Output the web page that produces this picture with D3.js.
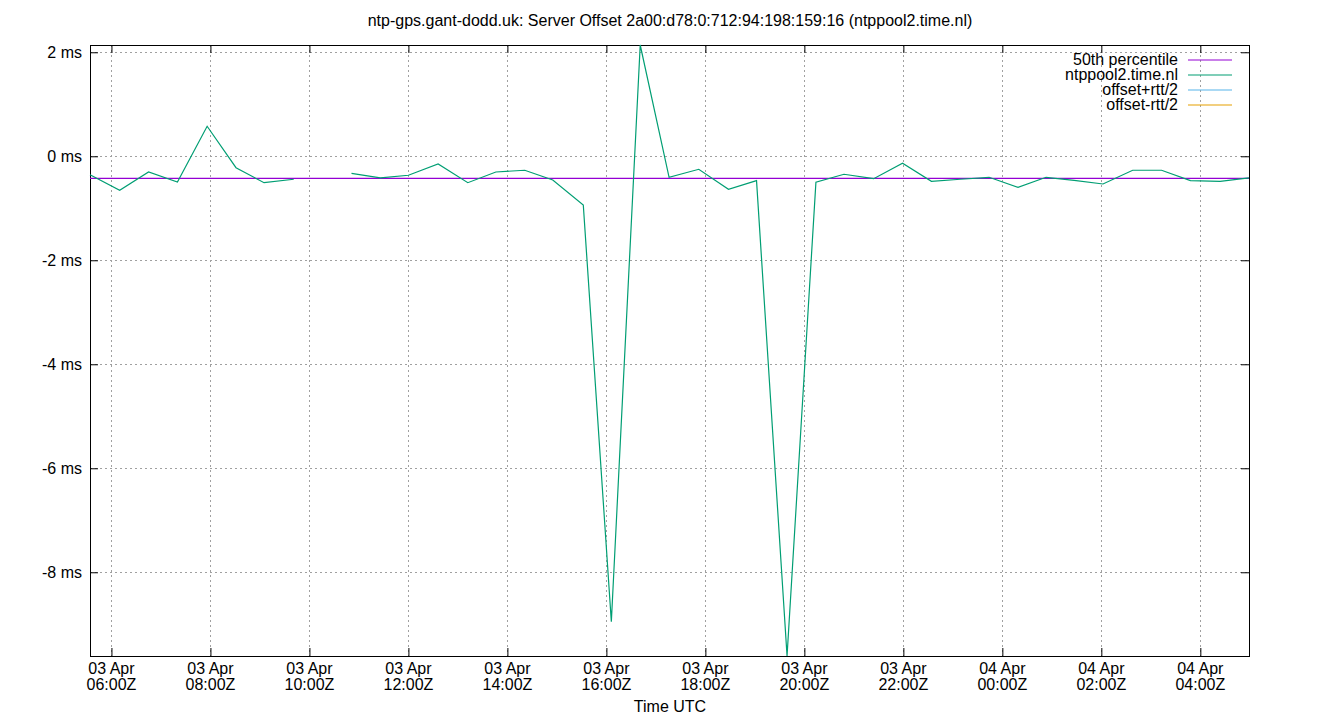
<!DOCTYPE html>
<html>
<head>
<meta charset="utf-8">
<script src="https://cdn.jsdelivr.net/npm/d3@7"></script>
<style>
  body { margin: 0; background: #fff; }
  svg { display: block; font-family: "Liberation Sans", Arial, sans-serif; }
</style>
</head>
<body>
<svg id="chart" width="1340" height="720"></svg>
<script>
// Sample times (UTC) and offsets in ms; null marks a missing sample
const times = [
  "2024-04-03 05:34", "2024-04-03 06:10", "2024-04-03 06:45", "2024-04-03 07:20",
  "2024-04-03 07:56", "2024-04-03 08:31", "2024-04-03 09:05", "2024-04-03 09:41",
  "2024-04-03 10:16", "2024-04-03 10:51", "2024-04-03 11:26", "2024-04-03 12:00",
  "2024-04-03 12:36", "2024-04-03 13:12", "2024-04-03 13:46", "2024-04-03 14:21",
  "2024-04-03 14:55", "2024-04-03 15:32", "2024-04-03 16:06", "2024-04-03 16:41",
  "2024-04-03 17:16", "2024-04-03 17:52", "2024-04-03 18:28", "2024-04-03 19:02",
  "2024-04-03 19:39", "2024-04-03 20:14", "2024-04-03 20:48", "2024-04-03 21:24",
  "2024-04-03 21:59", "2024-04-03 22:34", "2024-04-03 23:09", "2024-04-03 23:44",
  "2024-04-04 00:19", "2024-04-04 00:53", "2024-04-04 01:27", "2024-04-04 02:02",
  "2024-04-04 02:38", "2024-04-04 03:13", "2024-04-04 03:48", "2024-04-04 04:24",
  "2024-04-04 04:59"
];
const offsets = [
  -0.354, -0.654, -0.302, -0.494,
  0.577, -0.219, -0.508, -0.442,
  null, -0.327, -0.417, -0.365,
  -0.148, -0.508, -0.302, -0.269,
  -0.456, -0.937, -8.95, 2.14,
  -0.404, -0.25, -0.635, -0.469,
  -9.61, -0.5, -0.346, -0.431,
  -0.135, -0.481, -0.442, -0.404,
  -0.596, -0.404, -0.465, -0.533,
  -0.269, -0.269, -0.469, -0.481,
  -0.417
];
const median = -0.423;
const yTicks = [-8, -6, -4, -2, 0, 2];
const legendNames = ["50th percentile", "ntppool2.time.nl", "offset+rtt/2", "offset-rtt/2"];
const legendColors = ["#9400d3", "#009e73", "#56b4e9", "#e69f00"];

const title = "ntp-gps.gant-dodd.uk: Server Offset 2a00:d78:0:712:94:198:159:16 (ntppool2.time.nl)";

const parse = d3.utcParse("%Y-%m-%d %H:%M");
const data = times.map((t, i) => ({ t: parse(t), v: offsets[i] }));

const plotL = 90, plotR = 1249, plotT = 45, plotB = 656;

const svg = d3.select("#chart");

const vals = offsets.filter(v => v != null);
const x = d3.scaleUtc().domain(d3.extent(data, d => d.t)).range([plotL, plotR]);
const y = d3.scaleLinear().domain([d3.min(vals), d3.max(vals)]).range([plotB, plotT]);

const xTickVals = d3.utcHour.every(2).range(x.domain()[0], x.domain()[1]);

// grid
const grid = svg.append("g").attr("stroke", "#a0a0a0").attr("stroke-width", 1)
  .attr("stroke-dasharray", "2,3").attr("shape-rendering", "crispEdges");
xTickVals.forEach(t => {
  grid.append("line").attr("x1", Math.round(x(t)) + 0.5).attr("x2", Math.round(x(t)) + 0.5)
    .attr("y1", plotT).attr("y2", plotB);
});
yTicks.forEach(v => {
  grid.append("line").attr("y1", Math.round(y(v)) + 0.5).attr("y2", Math.round(y(v)) + 0.5)
    .attr("x1", plotL).attr("x2", plotR);
});

// axes with inward ticks, mirrored
const tickLen = 8;
const axL = svg.append("g").attr("transform", `translate(${plotL},0)`)
  .call(d3.axisLeft(y).tickValues(yTicks).tickSize(-tickLen).tickPadding(8)
    .tickFormat(d => d + " ms"));
const axR = svg.append("g").attr("transform", `translate(${plotR},0)`)
  .call(d3.axisRight(y).tickValues(yTicks).tickSize(-tickLen).tickFormat(""));
const axB = svg.append("g").attr("transform", `translate(0,${plotB})`)
  .call(d3.axisBottom(x).tickValues(xTickVals).tickSize(-tickLen).tickFormat(""));
const axT = svg.append("g").attr("transform", `translate(0,${plotT})`)
  .call(d3.axisTop(x).tickValues(xTickVals).tickSize(-tickLen).tickFormat(""));
[axL, axR, axB, axT].forEach(a => {
  a.select(".domain").remove();
  a.selectAll("line").attr("stroke", "#000");
});
axL.selectAll("text").attr("font-size", 16).attr("fill", "#000")
  .attr("font-family", "Liberation Sans, Arial, sans-serif");

// two-line x labels
const fmtDay = d3.utcFormat("%d %b"), fmtTime = d3.utcFormat("%H:%MZ");
const xl = svg.append("g").attr("font-size", 16).attr("text-anchor", "middle");
xTickVals.forEach(t => {
  const tx = xl.append("text").attr("x", x(t)).attr("y", 674);
  tx.append("tspan").attr("x", x(t)).text(fmtDay(t));
  tx.append("tspan").attr("x", x(t)).attr("dy", 16).text(fmtTime(t));
});

// frame
svg.append("rect").attr("x", plotL + 0.5).attr("y", plotT + 0.5)
  .attr("width", plotR - plotL).attr("height", plotB - plotT)
  .attr("fill", "none").attr("stroke", "#000").attr("stroke-width", 1)
  .attr("shape-rendering", "crispEdges");

// median line
svg.append("line").attr("x1", plotL).attr("x2", plotR)
  .attr("y1", y(median)).attr("y2", y(median))
  .attr("stroke", legendColors[0]).attr("stroke-width", 1.2);

// offset line
const line = d3.line().defined(d => d.v != null).x(d => x(d.t)).y(d => y(d.v));
svg.append("path").datum(data).attr("d", line)
  .attr("fill", "none").attr("stroke", legendColors[1]).attr("stroke-width", 1.2);

// legend
const lg = svg.append("g").attr("font-size", 16);
legendNames.forEach((n, i) => {
  const ly = 60 + i * 15;
  lg.append("text").attr("x", 1178).attr("y", ly + 5).attr("text-anchor", "end").text(n);
  lg.append("line").attr("x1", 1188).attr("x2", 1232).attr("y1", ly).attr("y2", ly)
    .attr("stroke", legendColors[i]).attr("stroke-width", 1.2);
});

// titles
svg.append("text").attr("x", 670).attr("y", 26).attr("text-anchor", "middle")
  .attr("font-size", 16).text(title);
svg.append("text").attr("x", 670).attr("y", 712).attr("text-anchor", "middle")
  .attr("font-size", 16).text("Time UTC");
</script>
</body>
</html>
